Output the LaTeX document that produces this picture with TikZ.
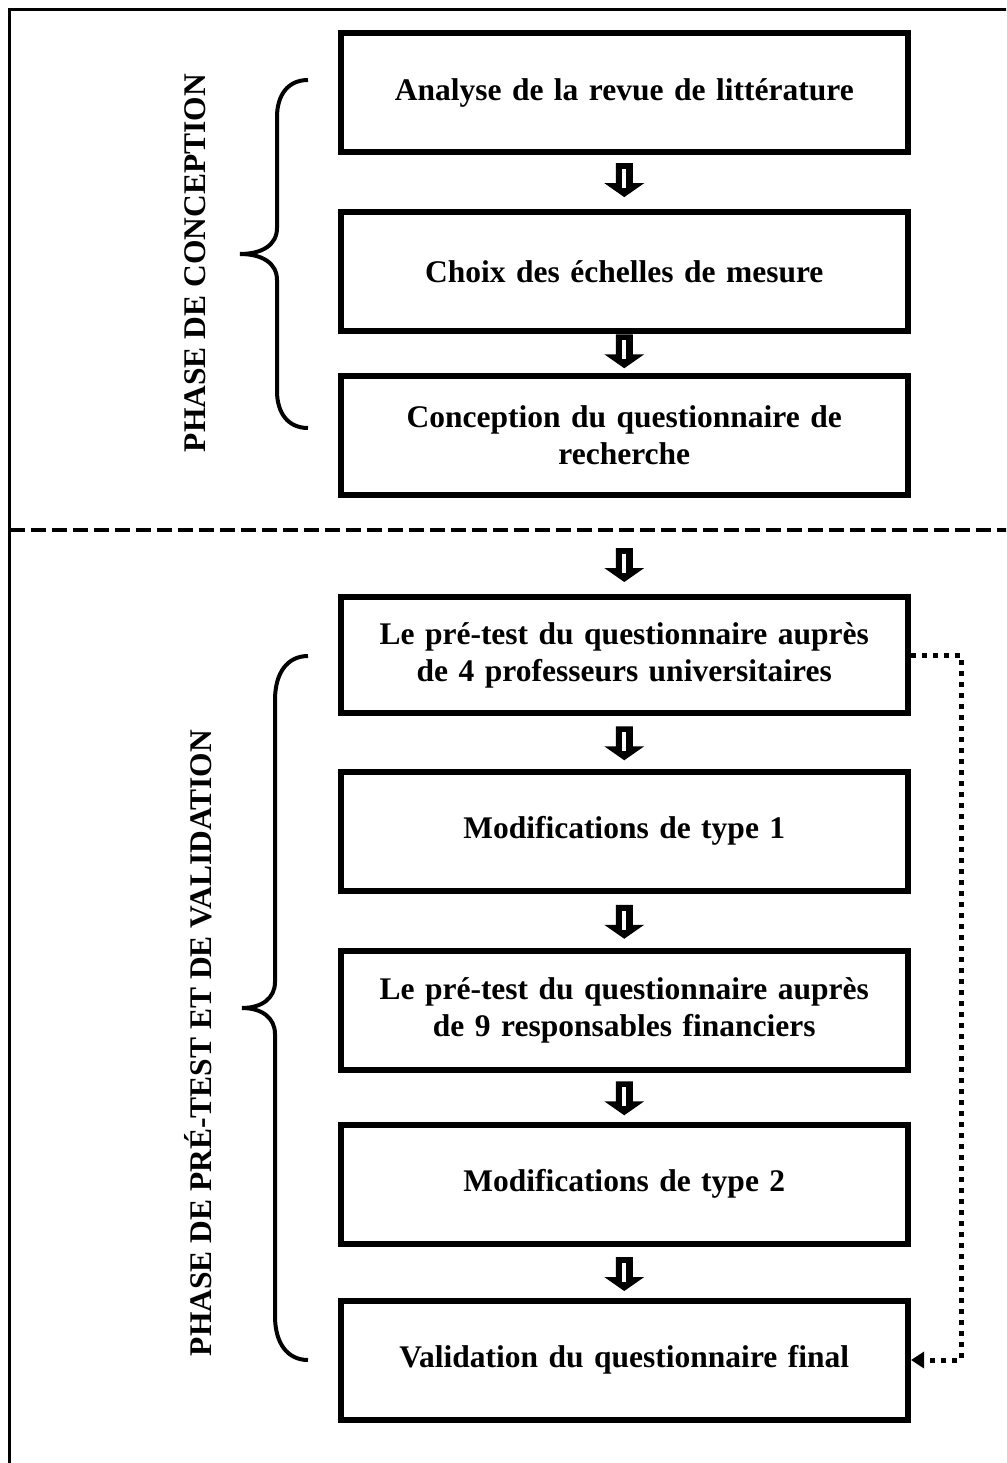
\documentclass[tikz,border=0pt]{standalone}
\usepackage{fontspec}
\setmainfont{Liberation Serif}
\usetikzlibrary{calc,arrows.meta}
\tikzset{
  stepbox/.style={draw, line width=6pt, minimum width=567.5pt, minimum height=119pt,
    text width=545pt, align=center, inner sep=0pt,
    font=\bfseries\fontsize{31.5}{37}\selectfont},
  phaselabel/.style={rotate=90, inner sep=0pt, font=\bfseries\fontsize{31.5}{37}\selectfont},
  bracestyle/.style={line width=4pt},
  framestyle/.style={line width=2.5pt},
  sepline/.style={line width=4pt, dash pattern=on 15pt off 6pt},
  feedback/.style={line width=5pt, dash pattern=on 5pt off 6pt,
    -{Triangle[length=13pt,width=16pt]}},
  pics/blockarrow/.style={code={
    \fill (-8.5,-17) -- (8.5,-17) -- (8.5,3) -- (20,3) -- (0,17) -- (-20,3) -- (-8.5,3) -- cycle;
    \fill[white] (-2,-11) rectangle (2,8);
  }}
}
\begin{document}
\begin{tikzpicture}[x=1pt,y=-1pt]
\useasboundingbox (0,0) rectangle (1006,1463);
\clip (0,0) rectangle (1006,1463);
\fill[white] (0,0) rectangle (1006,1463);
\draw[framestyle] (9.5,9.5) rectangle (1030,1490);
\draw[sepline] (9.5,530) -- (1010,530);

\node[stepbox] (b1) at (624.25,92.75) {Analyse de la revue de littérature};
\node[stepbox] (b2) at (624.25,271.5) {Choix des échelles de mesure};
\node[stepbox] (b3) at (624.25,435) {Conception du questionnaire de\\recherche};
\node[stepbox, minimum height=116pt] (b4) at (624.25,655) {Le pré-test du questionnaire auprès\\de 4 professeurs universitaires};
\node[stepbox] (b5) at (624.25,831) {Modifications de type 1};
\node[stepbox] (b6) at (624.25,1010.5) {Le pré-test du questionnaire auprès\\de 9 responsables financiers};
\node[stepbox] (b7) at (624.25,1184) {Modifications de type 2};
\node[stepbox] (b8) at (624.25,1360) {Validation du questionnaire final};

\pic at ($(b1.south)!0.5!(b2.north)+(0,-2)$) {blockarrow};
\pic at ($(b2.south)!0.5!(b3.north)+(0,-2)$) {blockarrow};
\coordinate (sepmid) at (624.25,530);
\pic at ($(sepmid)!0.5!(b4.north)+(0,3)$) {blockarrow};
\pic at ($(b4.south)!0.5!(b5.north)+(0,1)$) {blockarrow};
\pic at ($(b5.south)!0.5!(b6.north)+(0,1)$) {blockarrow};
\pic at ($(b6.south)!0.5!(b7.north)+(0,1)$) {blockarrow};
\pic at ($(b7.south)!0.5!(b8.north)+(0,2)$) {blockarrow};

\draw[feedback] (b4.east) -- ++(50,0) |- (b8.east);

\draw[bracestyle] (308,80) .. controls (288,80) and (277,95) .. (277,117) -- (277,228)
  .. controls (277,245) and (262,254) .. (240,254)
  .. controls (262,254) and (277,263) .. (277,280) -- (277,391)
  .. controls (277,413) and (288,428) .. (308,428);
\draw[bracestyle] (308,656) .. controls (288,656) and (275,672) .. (275,700) -- (275,982)
  .. controls (275,998) and (262,1008) .. (242,1008)
  .. controls (262,1008) and (275,1018) .. (275,1034) -- (275,1316)
  .. controls (275,1344) and (288,1360) .. (308,1360);

\node[phaselabel] (p1) at (195,263) {PHASE DE CONCEPTION};
\node[phaselabel] (p2) at (198,1043) {PHASE DE PRÉ-TEST ET DE VALIDATION};
\end{tikzpicture}
\end{document}
